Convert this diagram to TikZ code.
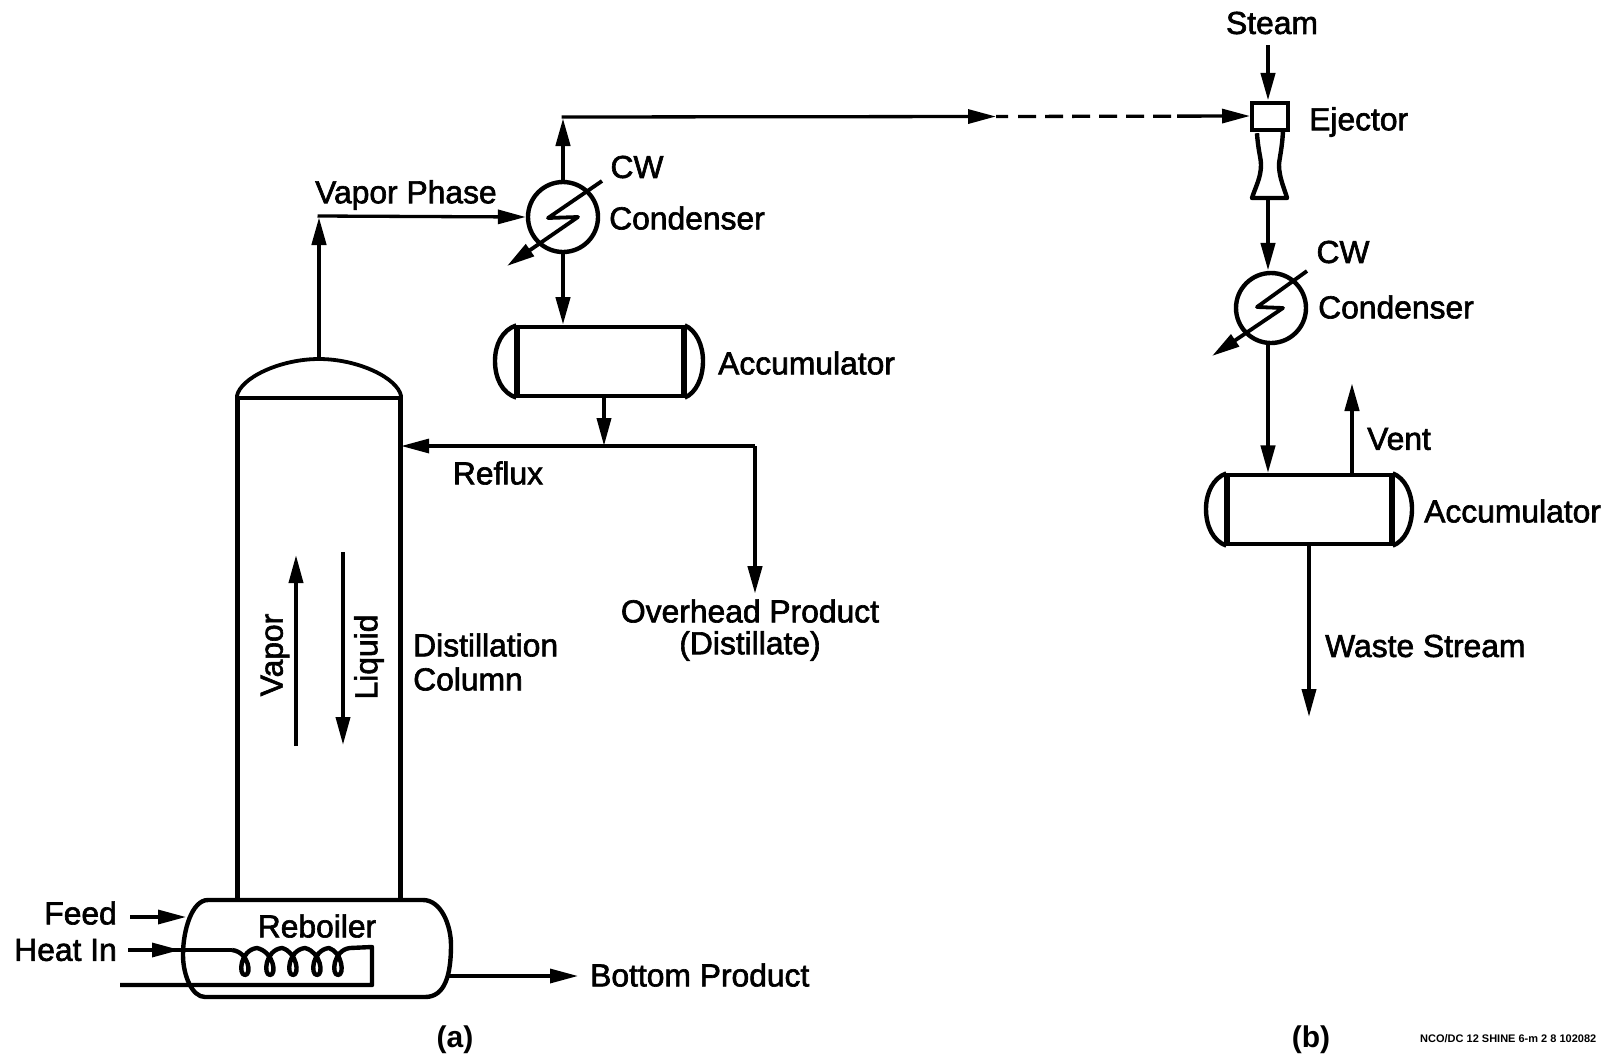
\documentclass[tikz,border=0pt]{standalone}
\usepackage{fontspec}
\setmainfont{Liberation Sans}
\newfontfamily\diagfont[FakeBold=2]{Liberation Sans}
\usetikzlibrary{arrows.meta,decorations.markings}
\tikzset{
 x=1pt,y=-1pt,
 line/.style={line width=3.8pt,line join=round},
 hline/.style={line width=3.3pt,line join=round},
 vline/.style={line width=4.4pt,line join=round},
 tip/.style={-{Triangle[length=28pt,width=14pt]}},
 flow/.style={line,tip},
 hflow/.style={hline,tip},
 midflow/.style={hline,postaction={decorate},decoration={markings,mark=at position #1 with {\arrow{Triangle[length=28pt,width=14pt]}}}},
 label/.style={inner sep=0pt,font=\diagfont\fontsize{31.8}{31.8}\selectfont,text=black},
 boldlabel/.style={inner sep=0pt,font=\fontsize{30}{30}\selectfont\bfseries,text=black},
 vessel/.style={draw,line width=3.3pt,inner sep=0pt},
 condenser/.style={circle,draw,line width=4.4pt,minimum size=70pt,inner sep=0pt}
}
\begin{document}
\begin{tikzpicture}
\useasboundingbox (0,0) rectangle (1610,1058);
% --- part (a)
\node[vessel,minimum width=161pt,minimum height=502pt] (column) at (319,649) {};
\draw[vline] (column.north west) -- (column.south west);
\draw[vline] (column.north east) -- (column.south east);
\draw[line] (column.north west) .. controls (240,378) and (280,359) .. (319,359) .. controls (358,359) and (398,378) .. (column.north east);
\coordinate (dome) at (319,359);
\draw[vline,fill=white] (208,900) -- (423,900) .. controls (441,900) and (451,925) .. (451,945) .. controls (451,975) and (445,997) .. (425,997) -- (205,997) .. controls (192,997) and (183,975) .. (183,955) .. controls (183,930) and (192,900) .. (208,900) -- cycle;
\node[label] (reboilertext) at (317,926) {Reboiler};
\coordinate (reboilerE) at (449,976);
\coordinate (bottomtip) at (578,976);
\draw[hflow] (reboilerE) -- (bottomtip);
\node[label,anchor=west] (bottom) at (590,975) {Bottom Product};
\node[label,anchor=east] (feed) at (117,913) {Feed};
\node[label,anchor=east] (heat) at (117,950) {Heat In};
\coordinate (feedS) at (130,917);
\coordinate (feedE) at (186,917);
\draw[hflow] (feedS) -- (feedE);
\coordinate (heatS) at (128,950);
\coordinate (coilA) at (232,950);
\draw[midflow=0.5] (heatS) -- (coilA);
\draw[vline] (coilA)
 foreach \c in {245,270,293,317,338} { .. controls (\c+4,952) and (\c+7,975) .. (\c,975) .. controls (\c-7,975) and (\c-5,950) .. (\c+12,948) }
 -- (372,947) -- (372,985) -- (120,985);
% internal flows
\coordinate (vapS) at (296,746);
\coordinate (vapE) at (296,555);
\coordinate (liqS) at (343,552);
\coordinate (liqE) at (343,745);
\draw[flow] (vapS) -- (vapE);
\draw[flow] (liqS) -- (liqE);
\node[label,rotate=90] (vaportext) at (275,655) {Vapor};
\node[label,rotate=90] (liquidtext) at (369,657) {Liquid};
\node[label,anchor=west] (dist1) at (413,645) {Distillation};
\node[label,anchor=west] (dist2) at (413,679) {Column};
% condenser 1
\node[condenser] (c1) at (563,217) {};
\coordinate (vtip) at (319,217);
\coordinate (vcorner) at (317.5,216);
\draw[vline,tip] (dome) -- (vtip);
\draw[hflow] (vcorner) -- (c1.west);
\node[label,anchor=west] (vaporphase) at (315,195) {Vapor Phase};
\node[label] (cw1) at (637,167) {CW};
\node[label,anchor=west] (cond1) at (609,218) {Condenser};
\coordinate (b1a) at (602,181);
\coordinate (b1b) at (548,218);
\coordinate (b1c) at (578,217);
\coordinate (b1d) at (507,266);
\draw[flow] (b1a) -- (b1b) -- (b1c) -- (b1d);
% accumulator 1
\node[vessel,minimum width=165pt,minimum height=69pt] (acc1) at (600.5,361.5) {};
\draw[vline] (acc1.north west) -- (acc1.south west);
\draw[vline] (acc1.north east) -- (acc1.south east);
\draw[vline] (acc1.north west) .. controls (502,330) and (495,345) .. (495,361) .. controls (495,378) and (502,393) .. (acc1.south west);
\draw[vline] (acc1.north east) .. controls (696,330) and (703,345) .. (703,361) .. controls (703,378) and (696,393) .. (acc1.south east);
\node[label,anchor=west] (acc1t) at (718,363) {Accumulator};
\coordinate (c1in) at (563,325);
\draw[vline,tip] (c1.south) -- (c1in);
% top line
\coordinate (toptip) at (563,118);
\coordinate (topcorner) at (561.5,117);
\coordinate (midtip) at (996,116.5);
\coordinate (ejin) at (1250,116);
\draw[vline,tip] (c1.north) -- (toptip);
\draw[hflow] (topcorner) -- (midtip);
\draw[hline,dash pattern=on 12pt off 10pt on 18pt off 9pt on 18pt off 9pt on 18pt off 9pt on 18pt off 9pt on 18pt off 9pt on 18pt off 6pt on 90pt,tip] (midtip) -- (ejin);
% reflux
\coordinate (tee) at (604,446);
\coordinate (ovcorner) at (755,446);
\coordinate (ovtip) at (755,594);
\draw[flow] (acc1.south -| tee) -- (tee);
\draw[hflow] (tee) -- (column.east |- tee);
\draw[hline] (tee) -- (ovcorner);
\draw[vline,tip] (ovcorner) -- (ovtip);
\node[label] (reflux) at (498,473) {Reflux};
\node[label] (over1) at (750,611) {Overhead Product};
\node[label] (over2) at (750,646) {(Distillate)};
\node[boldlabel] (a) at (455,1040) {(a)};
% --- part (b)
\node[label] (steam) at (1272,23) {Steam};
\coordinate (steamS) at (1268,45);
\node[vessel,line width=4.4pt,minimum width=36pt,minimum height=27pt] (ejbox) at (1270,116.5) {};
\draw[vline] (ejbox.south) ++(-13,1) .. controls (1258,150) and (1261,158) .. (1261,165) .. controls (1261,178) and (1255,188) .. (1252,198) -- (1287,198) .. controls (1285,190) and (1279,178) .. (1279,165) .. controls (1279,160) and (1282,150) .. (1283,131);
\coordinate (ejout) at (1268,198);
\draw[vline,tip] (steamS) -- (ejbox.north -| steamS);
\node[label,anchor=west] (ejt) at (1309,122) {Ejector};
\node[condenser] (c2) at (1271,308) {};
\draw[vline,tip] (ejout) -- (c2.north -| ejout);
\node[label] (cw2) at (1343,252) {CW};
\node[label,anchor=west] (cond2) at (1318,307) {Condenser};
\coordinate (b2a) at (1307,271);
\coordinate (b2b) at (1257,307);
\coordinate (b2c) at (1283,308);
\coordinate (b2d) at (1212,356);
\draw[flow] (b2a) -- (b2b) -- (b2c) -- (b2d);
\node[vessel,minimum width=163pt,minimum height=69pt] (acc2) at (1309.5,509.5) {};
\draw[vline] (acc2.north west) -- (acc2.south west);
\draw[vline] (acc2.north east) -- (acc2.south east);
\draw[vline] (acc2.north west) .. controls (1213,478) and (1206,493) .. (1206,509) .. controls (1206,526) and (1213,541) .. (acc2.south west);
\draw[vline] (acc2.north east) .. controls (1405,478) and (1412,493) .. (1412,509) .. controls (1412,526) and (1405,541) .. (acc2.south east);
\coordinate (c2s) at (1268,343);
\draw[vline,tip] (c2s) -- (acc2.north -| c2s);
\coordinate (ventS) at (1352,476);
\coordinate (ventE) at (1352,383);
\draw[vline,tip] (ventS) -- (ventE);
\node[label,anchor=west] (vent) at (1367,439) {Vent};
\node[label,anchor=west] (acc2t) at (1424,511) {Accumulator};
\coordinate (wasteS) at (1309,544);
\coordinate (wasteE) at (1309,717);
\draw[flow] (wasteS) -- (wasteE);
\node[label,anchor=west] (waste) at (1325,646) {Waste Stream};
\node[boldlabel] (b) at (1311,1040) {(b)};
\node[inner sep=0pt,anchor=west,font=\fontsize{11}{11}\selectfont\bfseries] (code) at (1420,1039) {NCO/DC 12 SHINE 6-m 2 8 102082};
\end{tikzpicture}
\end{document}
